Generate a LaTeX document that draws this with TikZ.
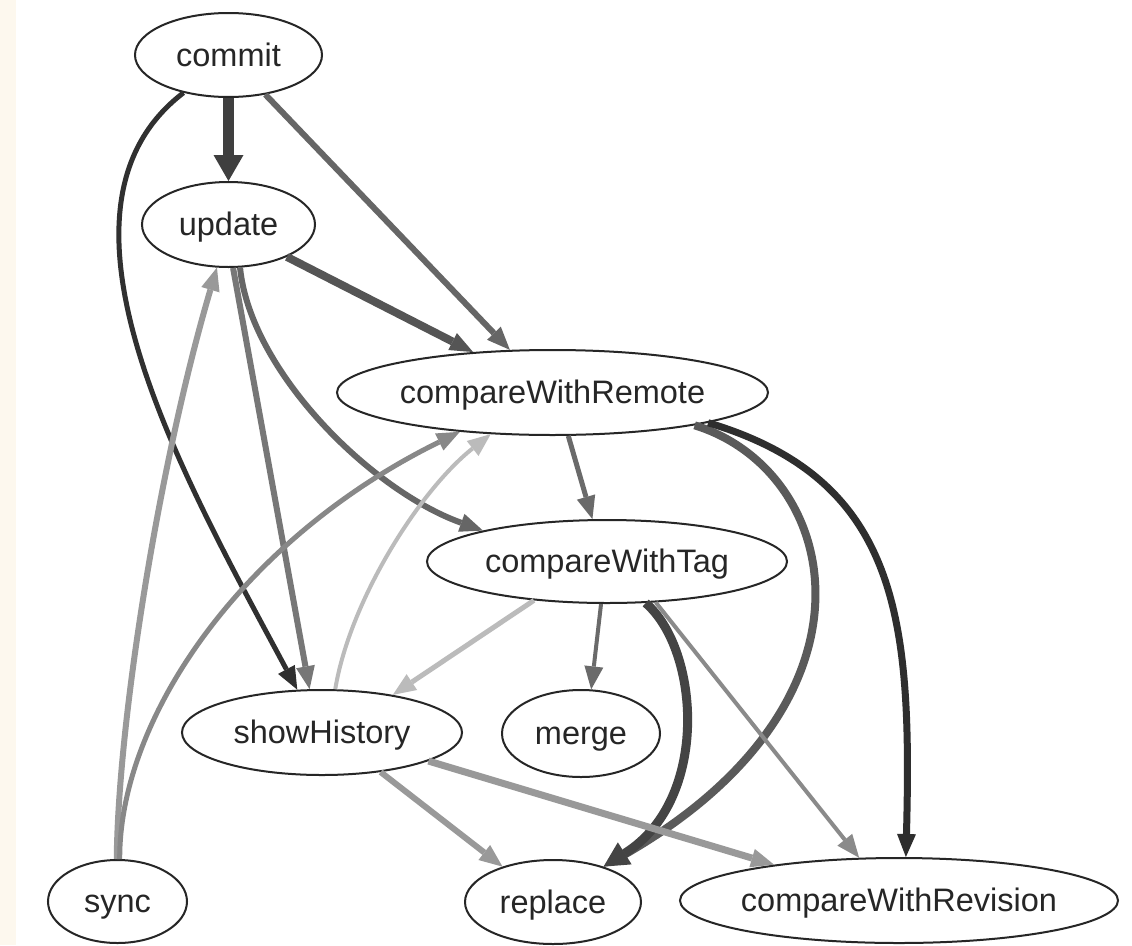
\documentclass[tikz,border=0pt]{standalone}
\usepackage{fontspec}
\setmainfont{Liberation Sans}
\usetikzlibrary{shapes.geometric,arrows.meta}
\definecolor{cream}{HTML}{FDF8EE}
\definecolor{ink}{HTML}{262626}
\definecolor{g2e}{HTML}{2E2E2E}
\definecolor{g30}{HTML}{303030}
\definecolor{g3f}{HTML}{3F3F3F}
\definecolor{g44}{HTML}{444444}
\definecolor{g55}{HTML}{555555}
\definecolor{g5a}{HTML}{5A5A5A}
\definecolor{g66}{HTML}{666666}
\definecolor{g6a}{HTML}{6A6A6A}
\definecolor{g77}{HTML}{777777}
\definecolor{g88}{HTML}{888888}
\definecolor{g8a}{HTML}{8A8A8A}
\definecolor{g99}{HTML}{999999}
\definecolor{gbb}{HTML}{BBBBBB}
\begin{document}
\begin{tikzpicture}[x=1pt,y=-1pt,
  nd/.style={ellipse, draw=ink, line width=2pt, fill=white, inner sep=0pt,
    text=ink, text height=29pt, text depth=7pt,
    font=\fontsize{32.5}{39}\selectfont},
  edge/.style={-{Triangle[length=23pt,width=19pt,line width=0pt]}},
  bigedge/.style={-{Triangle[length=26pt,width=30pt,line width=0pt]}},
  thickedge/.style={-{Triangle[length=25pt,width=26pt,line width=0pt]}}]
\useasboundingbox (0,0) rectangle (1132,945);
\fill[white] (0,0) rectangle (1132,945);
\fill[cream] (0,0) rectangle (16,945);

\node[nd, minimum width=187pt, minimum height=84pt] (commit) at (228.5,55) {\makebox[0pt]{commit}};
\node[nd, minimum width=173pt, minimum height=85pt] (update) at (228.5,224.5) {\makebox[0pt]{update}};
\node[nd, minimum width=431pt, minimum height=85pt] (compareWithRemote) at (552.5,392.5) {\makebox[0pt]{compareWithRemote}};
\node[nd, minimum width=360pt, minimum height=83pt] (compareWithTag) at (607,561.5) {\makebox[0pt]{compareWithTag}};
\node[nd, minimum width=280pt, minimum height=85pt] (showHistory) at (322,732.5) {\makebox[0pt]{showHistory}};
\node[nd, minimum width=158pt, minimum height=87pt] (merge) at (581,733.5) {\makebox[0pt]{merge}};
\node[nd, minimum width=139pt, minimum height=83pt] (sync) at (117.5,901.5) {\makebox[0pt]{sync}};
\node[nd, minimum width=176pt, minimum height=84pt] (replace) at (553,902) {\makebox[0pt]{replace}};
\node[nd, minimum width=438pt, minimum height=85pt] (compareWithRevision) at (899,900.5) {\makebox[0pt]{compareWithRevision}};

\draw[bigedge, draw=g3f, line width=11pt] (commit.south) -- (update.north);
\draw[edge, draw=g30, line width=5pt] (commit.220) .. controls (30,210) and (185,480) .. (showHistory.120);
\draw[edge, draw=g66, line width=6pt] (commit.-47) -- (compareWithRemote.135);
\draw[edge, draw=g55, line width=8pt] (update.-29) -- (compareWithRemote.153);
\draw[edge, draw=g77, line width=6pt] (update.-84) -- (showHistory.106);
\draw[edge, draw=g66, line width=6pt] (update.-75) .. controls (250,370) and (370,490) .. (compareWithTag.166);
\draw[edge, draw=g99, line width=6pt] (sync.91) .. controls (118,720) and (160,460) .. (update.-105);
\draw[edge, draw=g88, line width=5pt] (sync.87) .. controls (119,720) and (240,540) .. (compareWithRemote.203.4);
\draw[edge, draw=gbb, line width=4pt] (showHistory.73) .. controls (350,600) and (420,490) .. (compareWithRemote.214);
\draw[edge, draw=g6a, line width=5pt] (compareWithRemote.-70) -- (compareWithTag.109);
\draw[edge, draw=g5a, line width=8pt] (compareWithRemote.-13.8) .. controls (840,470) and (895,700) .. (replace.35);
\draw[edge, draw=g2e, line width=7pt] (compareWithRemote.-11.3) .. controls (900,480) and (912,620) .. (compareWithRevision.81);
\draw[edge, draw=gbb, line width=5pt] (compareWithTag.208.6) -- (showHistory.28.6);
\draw[edge, draw=g6a, line width=4pt] (compareWithTag.-98) -- (merge.77);
\draw[thickedge, draw=g44, line width=9pt] (compareWithTag.-47) .. controls (700,650) and (710,800) .. (replace.35);
\draw[edge, draw=g8a, line width=4pt] (compareWithTag.-40) -- (compareWithRevision.133);
\draw[edge, draw=g99, line width=6pt] (showHistory.-34) -- (replace.145);
\draw[edge, draw=g99, line width=7pt] (showHistory.-15) -- (compareWithRevision.164);
\end{tikzpicture}
\end{document}
